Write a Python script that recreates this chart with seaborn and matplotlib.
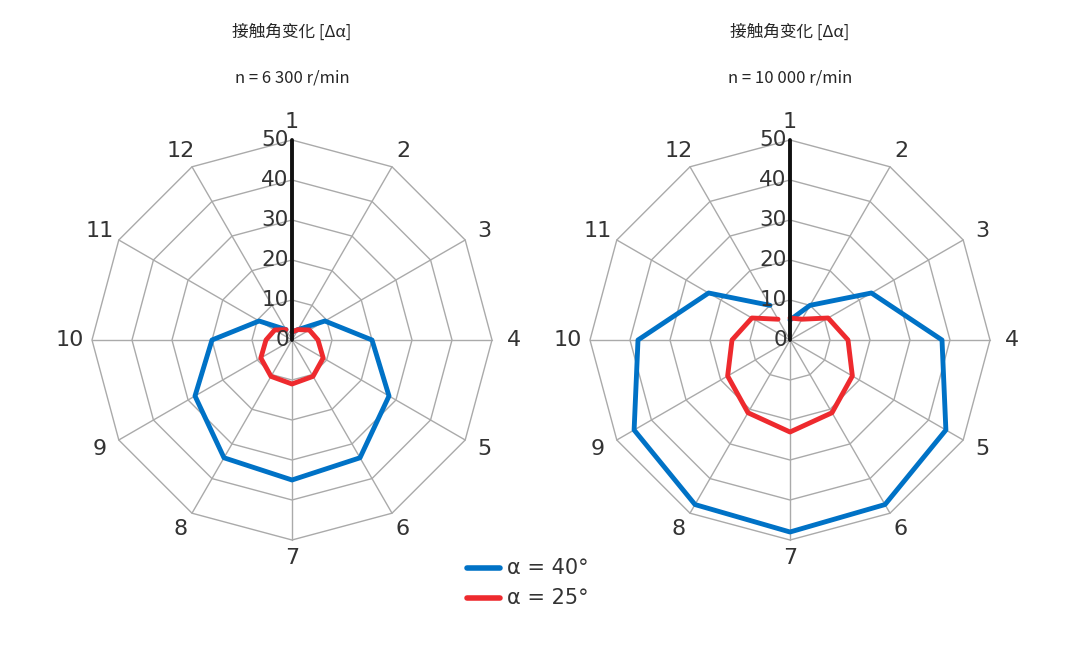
import numpy as np
import matplotlib
matplotlib.use("Agg")
import matplotlib.pyplot as plt
import seaborn as sns
import pandas as pd

positions = [str(i) for i in range(1, 13)]
ticks = [0, 10, 20, 30, 40, 50]
left_a40 = [2, 3, 9.5, 20, 28, 34, 35, 34, 28, 20, 9.5, 3]
left_a25 = [2, 3, 5, 6.5, 9, 10.5, 11, 10.5, 9, 6.5, 5, 3]
right_a40 = [5, 10, 23.5, 38, 45, 47.5, 48, 47.5, 45, 38, 23.5, 10]
right_a25 = [5.5, 6, 11, 14.5, 18, 21, 23, 21, 18, 14.5, 11, 6]
titles = ["n = 6 300 r/min", "n = 10 000 r/min"]
title_main = "接触角变化 [Δα]"

sns.set_theme(style="white")
cjk = ["Noto Sans CJK SC", "Noto Sans CJK JP", "Noto Sans CJK TC", "Noto Sans CJK KR", "DejaVu Sans"]
fig = plt.figure(figsize=(10.65, 6.5), dpi=100)
theta = np.arange(12) * 2 * np.pi / 12

def xy(vals):
    v = np.array(list(vals) + [vals[0]], dtype=float)
    t = np.append(theta, theta[0])
    return v * np.sin(t), v * np.cos(t)

cx_list = [292, 790]
for k, (cx, a40, a25) in enumerate(zip(cx_list, [left_a40, right_a40], [left_a25, right_a25])):
    ax = fig.add_axes([(cx - 240) / 1065, (310 - 240) / 650, 480 / 1065, 480 / 650])
    ax.set_xlim(-60, 60); ax.set_ylim(-60, 60); ax.set_aspect("equal"); ax.axis("off")
    for r in ticks[1:]:
        x, y = xy([r] * 12)
        ax.plot(x, y, color="#aaaaaa", lw=1, zorder=1)
    for i, t in enumerate(theta):
        ax.plot([0, 50 * np.sin(t)], [0, 50 * np.cos(t)],
                color="#111111" if i == 0 else "#aaaaaa", lw=2.8 if i == 0 else 1, zorder=1 if i else 4)
        ax.text(55.5 * np.sin(t), 54.5 * np.cos(t), positions[i], ha="center", va="center",
                fontsize=16, color="#333333")
    for r in ticks:
        ax.text(-0.8, r, str(r), ha="right", va="center", fontsize=15.5, color="#333333", zorder=5)
    for vals, col in [(a40, "#0072c6"), (a25, "#ee2a2e")]:
        x, y = xy(vals)
        df = pd.DataFrame({"x": x, "y": y})
        sns.lineplot(data=df, x="x", y="y", sort=False, ax=ax, color=col, lw=3.5, zorder=3)
    fig.text(cx / 1065, 1 - 32 / 650, title_main, ha="center", va="center",
             fontsize=12, family=cjk)
    fig.text(cx / 1065, 1 - 78 / 650, titles[k], ha="center", va="center",
             fontsize=12, family=cjk)

for yy, lab, col in [(568, "α = 40°", "#0072c6"), (598, "α = 25°", "#ee2a2e")]:
    fig.add_artist(matplotlib.lines.Line2D([467 / 1065, 500 / 1065], [1 - yy / 650] * 2, color=col, lw=4))
    fig.text(507 / 1065, 1 - yy / 650, lab, ha="left", va="center", fontsize=15, color="#333333")

fig.savefig("out.png", dpi=100)
